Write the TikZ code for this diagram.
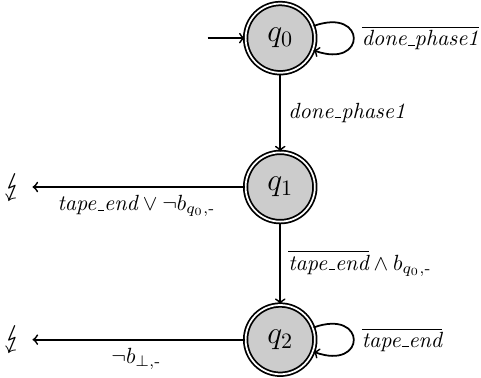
\documentclass[tikz,border=0pt]{standalone}
\usepackage{amsfonts, amsthm, amsmath}
\usepackage{amssymb}
\usepackage{stmaryrd}

\newcommand{\lowdash}{\leavevmode\kern.06em\vbox{\hrule width.3em}}
\tikzset{qstate/.style={circle, draw, double, double distance=0.8pt, fill=black!20, minimum size=31.5pt, inner sep=0pt, font=\Large}}
\tikzset{errnode/.style={font=\Large, inner sep=2pt}}

\begin{document}
\begin{tikzpicture}[thick]
\useasboundingbox (0,0) rectangle (7.69,6.04);
%%%%%%%%% states
\node[qstate] (q0) at (4.48,5.43) {$q_0$};
\node[qstate] (q1) at (4.48,3.05) {$q_1$};
\node[qstate] (q2) at (4.48,0.61) {$q_2$};

\coordinate (start) at (3.32,5.43);
\node[errnode] (err1) at (0.21,3.05) {$\lightning$};
\node[errnode] (err2) at (0.21,0.61) {$\lightning$};

%%%%%%%%% transitions
\draw[->] (start) to (q0);
\draw[->] (q0) to[out=20, in=-20, looseness=6] node[right] {$\overline{\textit{done\lowdash phase1}}$} (q0);
\draw[->] (q0) to node[right] {\textit{done\lowdash phase1}} (q1);

\draw[->, shorten >=2pt] (q1) to node[below] {$\textit{tape\lowdash end} \vee \neg b_{q_0,\text{-}}$} (err1);
\draw[->] (q1) to node[right] {$\overline{\textit{tape\lowdash end}} \wedge b_{q_0,\text{-}}$} (q2);

\draw[->] (q2) to[out=20, in=-20, looseness=6] node[right] {$\overline{\textit{tape\lowdash end}}$} (q2);
\draw[->, shorten >=2pt] (q2) to node[below] {$\neg b_{\bot,\text{-}}$} (err2);

\end{tikzpicture}
\end{document}
